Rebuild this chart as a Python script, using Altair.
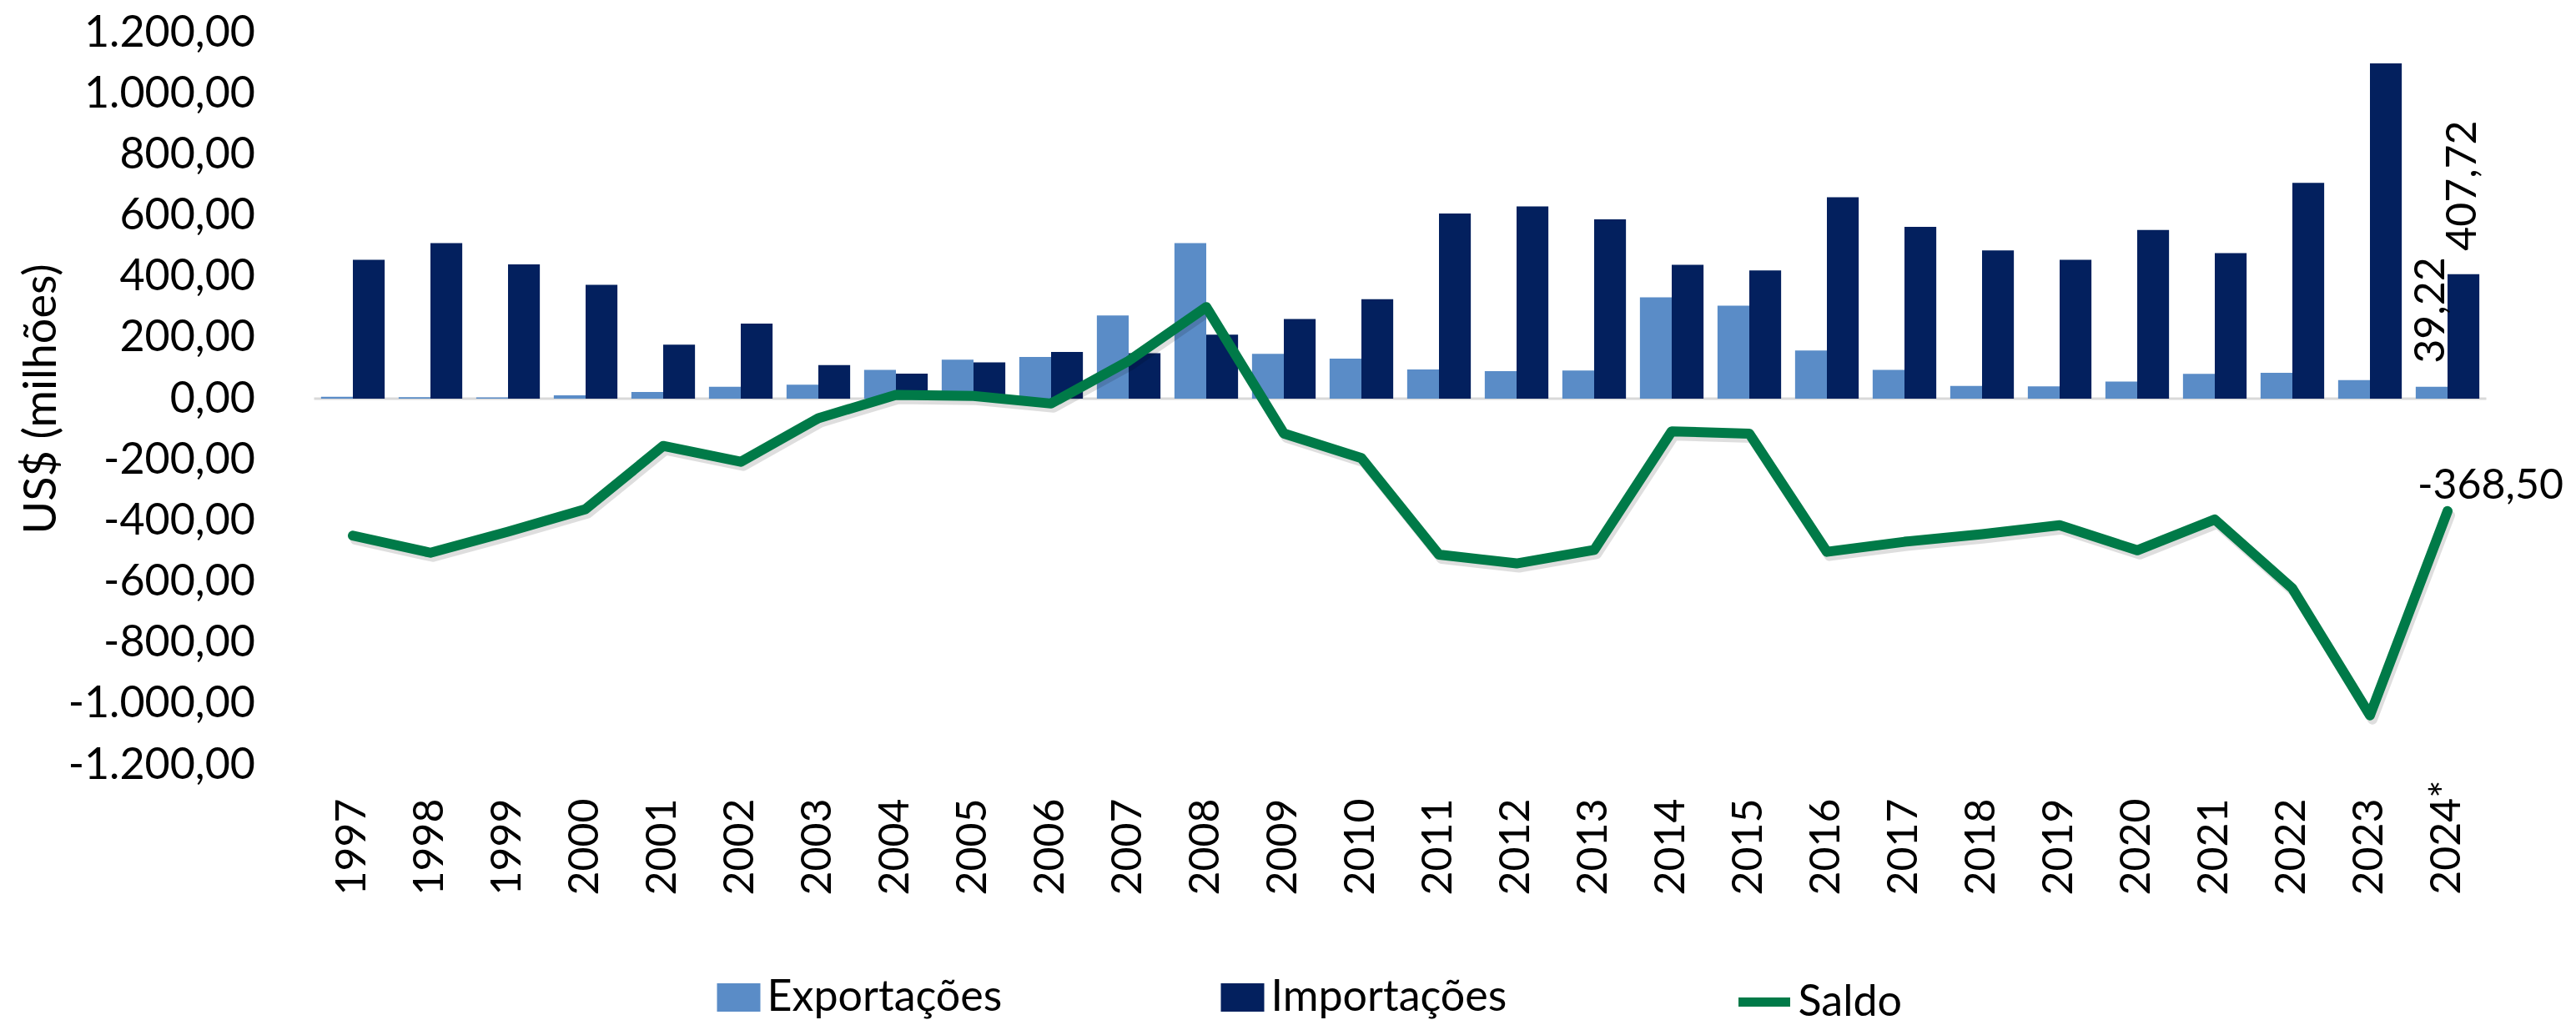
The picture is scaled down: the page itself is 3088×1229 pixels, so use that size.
import altair as alt
import pandas as pd

years = ["1997", "1998", "1999", "2000", "2001", "2002", "2003", "2004", "2005",
         "2006", "2007", "2008", "2009", "2010", "2011", "2012", "2013", "2014",
         "2015", "2016", "2017", "2018", "2019", "2020", "2021", "2022", "2023", "2024*"]
exportacoes = [6, 5, 4, 11, 22, 39, 46, 94, 128, 137, 273, 510, 147, 131, 96, 90, 92,
               332, 305, 158, 94, 42, 40, 56, 81, 85, 61, 39.22]
importacoes = [455, 510, 440, 373, 177, 246, 110, 82, 119, 153, 149, 210, 261, 326, 607,
               630, 588, 439, 420, 660, 563, 486, 455, 553, 477, 707, 1099, 407.72]
saldo = [-449, -505, -436, -362, -155, -207, -64, 12, 9, -16, 124, 300, -114, -195,
         -511, -540, -496, -107, -115, -502, -469, -444, -415, -497, -396, -622, -1038, -368.50]

bar_names = ["Exportações", "Importações"]
bar_colors = ["#5A8CC7", "#03205E"]
line_names = ["Saldo"]
line_colors = ["#007A48"]
y_ticks = [-1200, -1000, -800, -600, -400, -200, 0, 200, 400, 600, 800, 1000, 1200]

rows = []
for i, ano in enumerate(years):
    rows.append({"ano": ano, "serie": "Exportações", "valor": exportacoes[i]})
    rows.append({"ano": ano, "serie": "Importações", "valor": importacoes[i]})
    rows.append({"ano": ano, "serie": "Saldo", "valor": saldo[i]})
df = pd.DataFrame(rows)
zero_df = pd.DataFrame({"v": [0]})

FONT = "Lato"
fill_scale = alt.Scale(domain=bar_names, range=bar_colors)
stroke_scale = alt.Scale(domain=line_names, range=line_colors)
x_scale = alt.Scale(domain=years, paddingInner=0.18, paddingOuter=0.09)
y_scale = alt.Scale(domain=[-1200, 1200], nice=False, zero=False)
off_scale = alt.Scale(domain=bar_names, paddingInner=0, paddingOuter=0)

rect_path = "M-1,-0.65H1V0.65H-1Z"

bar_legend = alt.Legend(
    title=None, orient="none", legendX=483, legendY=1131, direction="horizontal",
    labelFont=FONT, labelFontSize=52, labelColor="black", labelOffset=8, labelLimit=1000,
    symbolType=rect_path, symbolSize=2704, symbolStrokeWidth=0, symbolOpacity=1,
    columnPadding=262, padding=0,
)
line_legend = alt.Legend(
    title=None, orient="none", legendX=1702, legendY=1126, direction="horizontal",
    labelFont=FONT, labelFontSize=52, labelColor="black", labelOffset=4, labelLimit=1000,
    symbolType="stroke", symbolSize=3844, symbolStrokeWidth=11, symbolOpacity=1,
    padding=0,
)

x_axis = alt.Axis(
    title=None, labelAngle=270, labelFont=FONT, labelFontSize=50, labelColor="black",
    labelAlign="right", labelBaseline="middle", ticks=False, domain=False, labelLimit=1000,
    labelPadding={"condition": {"test": "datum.value === '2024*'", "value": 18}, "value": 40},
)
y_axis = alt.Axis(
    title="US$ (milhões)", titleFont=FONT, titleFontSize=54, titleFontWeight="normal",
    titleColor="black", titleX=-326, titleY=439, titleAngle=270, titleBaseline="middle",
    labelFont=FONT, labelFontSize=52, labelColor="black", labelPadding=71, labelLimit=1000,
    ticks=False, tickSize=0, domain=False, grid=False, values=y_ticks, format=",.2f",
)

base = alt.Chart(df)

zero_rule = alt.Chart(zero_df).mark_rule(color="#D9D9D9", strokeWidth=3).encode(
    y=alt.Y("v:Q", scale=y_scale)
)

bars = base.transform_filter("datum.serie !== 'Saldo'").mark_bar().encode(
    x=alt.X("ano:N", scale=x_scale, axis=x_axis, sort=years),
    xOffset=alt.XOffset("serie:N", scale=off_scale),
    y=alt.Y("valor:Q", scale=y_scale, axis=y_axis),
    fill=alt.Fill("serie:N", scale=fill_scale, legend=bar_legend),
)

line_shadow = base.transform_filter("datum.serie === 'Saldo'").mark_line(
    strokeWidth=12, strokeCap="round", strokeJoin="round", color="#000000",
    opacity=0.13, xOffset=3, yOffset=5
).encode(
    x=alt.X("ano:N", sort=years),
    y=alt.Y("valor:Q"),
)

line = base.transform_filter("datum.serie === 'Saldo'").mark_line(
    strokeWidth=12, strokeCap="round", strokeJoin="round"
).encode(
    x=alt.X("ano:N", sort=years),
    y=alt.Y("valor:Q"),
    stroke=alt.Stroke("serie:N", scale=stroke_scale, legend=line_legend),
)

bar_labels = base.transform_filter(
    "datum.ano === '2024*' && datum.serie !== 'Saldo'"
).mark_text(
    angle=270, align="left", baseline="middle", dx=28, font=FONT, fontSize=50, color="black"
).encode(
    x=alt.X("ano:N", sort=years),
    xOffset=alt.XOffset("serie:N", scale=off_scale),
    y=alt.Y("valor:Q"),
    text=alt.Text("valor:Q", format=",.2f"),
)

saldo_label = base.transform_filter(
    "datum.ano === '2024*' && datum.serie === 'Saldo'"
).mark_text(
    align="left", baseline="middle", dx=-36, dy=-30, font=FONT, fontSize=50, color="black"
).encode(
    x=alt.X("ano:N", sort=years),
    y=alt.Y("valor:Q"),
    text=alt.Text("valor:Q", format=",.2f"),
)

chart = alt.layer(zero_rule, bars, line_shadow, line, bar_labels, saldo_label).properties(
    width=2604, height=878,
    autosize=alt.AutoSizeParams(type="none"),
    padding={"left": 368.5, "top": 31, "right": 99, "bottom": 312},
).configure(
    locale={"number": {"decimal": ",", "thousands": ".", "grouping": [3],
                       "currency": ["R$", ""], "minus": "-"}}
).configure_view(stroke=None)

chart.save("out.html", embed_options={"renderer": "svg", "actions": False})
